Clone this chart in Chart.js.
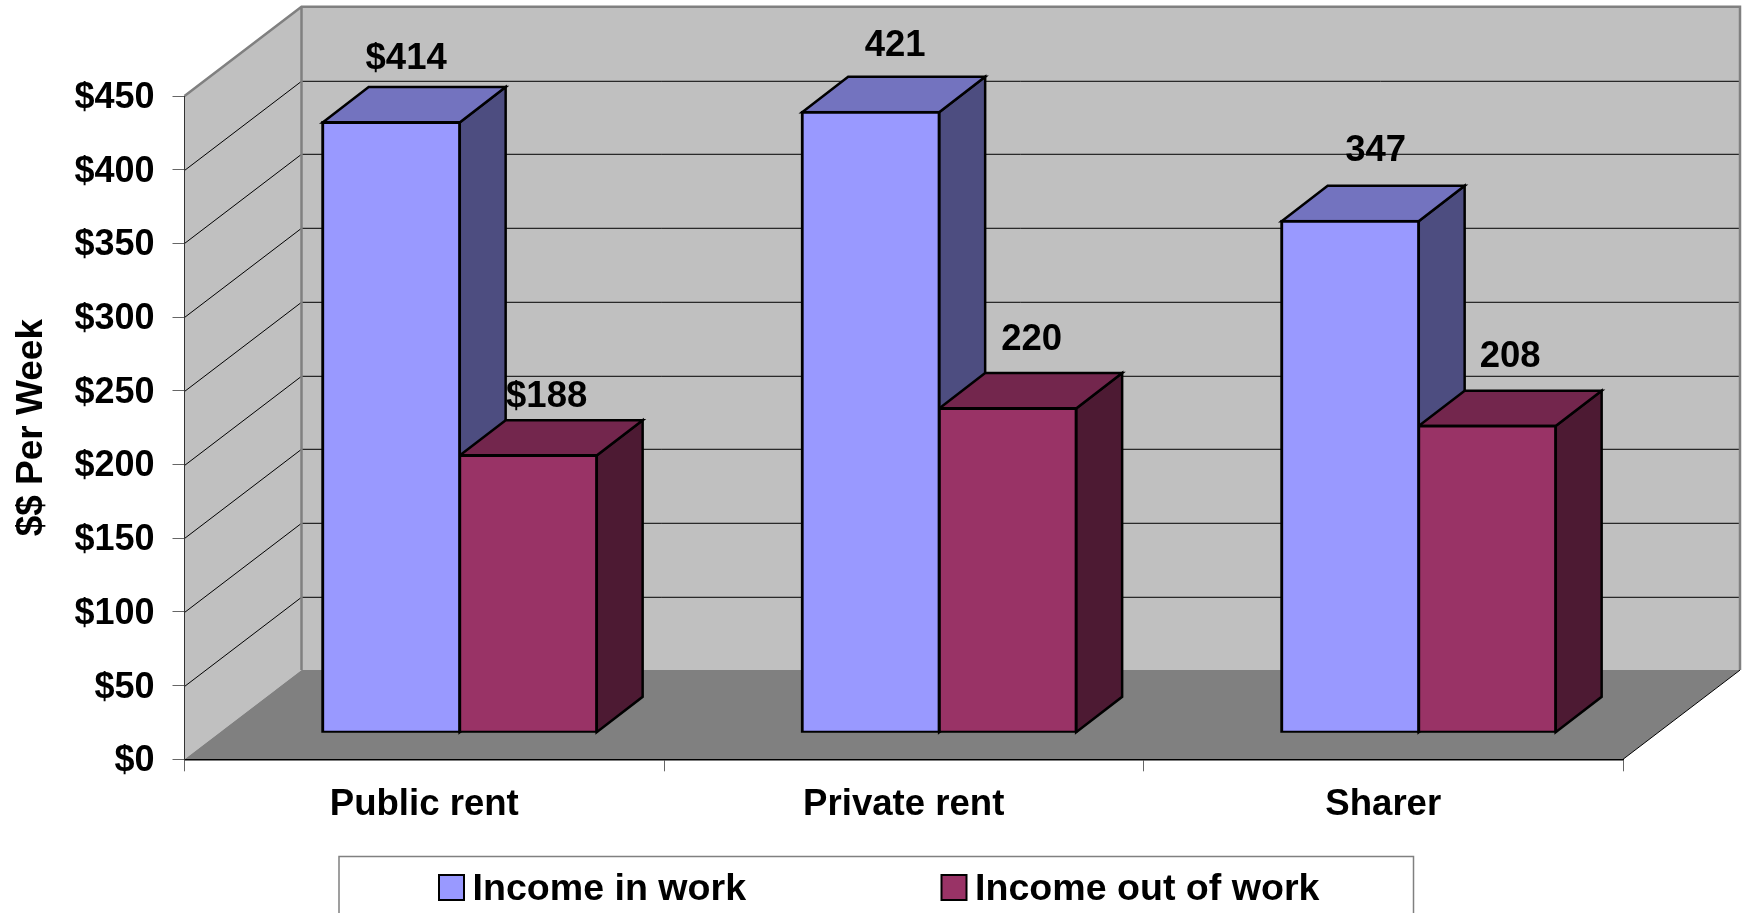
<!DOCTYPE html>
<html>
<head>
<meta charset="utf-8">
<title>Income per week</title>
<script src="https://cdn.jsdelivr.net/npm/chart.js@4"></script>
<style>
  html, body { margin: 0; padding: 0; background: #fff; overflow: hidden; }
  #wrap { width: 1743px; height: 913px; }
</style>
</head>
<body>
<div id="wrap"><canvas id="incomeChart" width="1743" height="913"></canvas></div>
<script>
const categories = ['Public rent', 'Private rent', 'Sharer'];
const incomeInWork = [414, 421, 347];
const incomeOutOfWork = [188, 220, 208];
const inWorkLabels = ['$414', '421', '347'];
const outOfWorkLabels = ['$188', '220', '208'];

const FONT = '"Liberation Sans", Arial, sans-serif';
const boldFont = { family: FONT, size: 36, weight: 'bold' };

// 3D look: box depth of the walls, of the bars, and where the bars stand on the floor
const wall = { dx: 117, dy: 89.2 };
const barDepth = { dx: 46, dy: 35.4 };
const barShift = { dx: 35.4, dy: 26.6 };

// hand placed label offsets from the bar's front top centre, per dataset
const labelNudge = [
  [[15, -64], [24.5, -66], [25.5, -70]],
  [[18.5, -59], [24, -68], [23, -69]]
];

function poly(ctx, pts, fill, stroke, lw) {
  ctx.beginPath();
  pts.forEach((p, i) => i ? ctx.lineTo(p[0], p[1]) : ctx.moveTo(p[0], p[1]));
  ctx.closePath();
  if (fill) { ctx.fillStyle = fill; ctx.fill(); }
  if (stroke) { ctx.strokeStyle = stroke; ctx.lineWidth = lw; ctx.stroke(); }
}

const walls3d = {
  id: 'walls3d',
  beforeDraw(chart) {
    const { ctx, chartArea: a, scales: { y } } = chart;
    const l = a.left, r = a.right, t = y.getPixelForValue(450), b = y.getPixelForValue(0);
    const d = wall;
    ctx.save();
    poly(ctx, [[l, b], [l + d.dx, b - d.dy], [l + d.dx, t - d.dy], [l, t]], '#c0c0c0');
    poly(ctx, [[l + d.dx, b - d.dy], [r + d.dx, b - d.dy], [r + d.dx, t - d.dy], [l + d.dx, t - d.dy]], '#c0c0c0');
    poly(ctx, [[l, b], [r, b], [r + d.dx, b - d.dy], [l + d.dx, b - d.dy]], '#808080');

    // gridlines run along the side wall then the back wall
    ctx.strokeStyle = '#000';
    ctx.lineWidth = 1;
    y.ticks.forEach(tk => {
      if (tk.value === 0 || tk.value === 450) return;
      const py = Math.round(y.getPixelForValue(tk.value)) + 0.5;
      ctx.beginPath();
      ctx.moveTo(l, py);
      ctx.lineTo(l + d.dx, py - d.dy);
      ctx.lineTo(r + d.dx, py - d.dy);
      ctx.stroke();
    });

    // wall outlines
    ctx.strokeStyle = '#808080';
    ctx.lineWidth = 2.5;
    ctx.beginPath();
    ctx.moveTo(l, t);
    ctx.lineTo(l + d.dx, t - d.dy);
    ctx.lineTo(r + d.dx, t - d.dy);
    ctx.lineTo(r + d.dx, b - d.dy);
    ctx.moveTo(l + d.dx, t - d.dy);
    ctx.lineTo(l + d.dx, b - d.dy);
    ctx.stroke();

    ctx.strokeStyle = '#000';
    ctx.lineWidth = 1;
    ctx.beginPath();
    ctx.moveTo(r, b);
    ctx.lineTo(r + d.dx, b - d.dy);
    ctx.stroke();
    ctx.restore();
  }
};

const bars3d = {
  id: 'bars3d',
  beforeDatasetsDraw(chart) {
    const ctx = chart.ctx;
    ctx.save();
    ctx.translate(barShift.dx, -barShift.dy);
    const dx = barDepth.dx, dy = barDepth.dy;
    chart.data.datasets.forEach((ds, i) => {
      chart.getDatasetMeta(i).data.forEach(bar => {
        const p = bar.getProps(['x', 'y', 'base', 'width']);
        const x0 = p.x - p.width / 2, x1 = p.x + p.width / 2;
        poly(ctx, [[x1, p.y], [x1 + dx, p.y - dy], [x1 + dx, p.base - dy], [x1, p.base]], ds.sideColor, '#000', 2.5);
        poly(ctx, [[x0, p.y], [x1, p.y], [x1 + dx, p.y - dy], [x0 + dx, p.y - dy]], ds.topColor, '#000', 2.5);
      });
    });
  },
  afterDatasetsDraw(chart) {
    const ctx = chart.ctx;
    ctx.restore();
    ctx.save();
    ctx.font = 'bold 36.5px ' + FONT;
    ctx.fillStyle = '#000';
    ctx.textAlign = 'center';
    ctx.textBaseline = 'middle';
    chart.data.datasets.forEach((ds, i) => {
      chart.getDatasetMeta(i).data.forEach((bar, j) => {
        const n = labelNudge[i][j];
        ctx.fillText(ds.valueLabels[j], bar.x + barShift.dx + n[0], bar.y - barShift.dy + n[1]);
      });
    });
    ctx.restore();
  }
};

const legendBox = {
  id: 'legendBox',
  afterDraw(chart) {
    const ctx = chart.ctx;
    const swatchX = [439, 941.5], textX = [472.5, 975];
    ctx.save();
    ctx.strokeStyle = '#808080';
    ctx.lineWidth = 1.5;
    ctx.strokeRect(339, 856.5, 1074.5, 80);
    ctx.font = 'bold 37.6px ' + FONT;
    ctx.textBaseline = 'middle';
    chart.data.datasets.forEach((ds, i) => {
      ctx.fillStyle = ds.backgroundColor;
      ctx.fillRect(swatchX[i], 875, 25, 25);
      ctx.strokeStyle = '#000';
      ctx.lineWidth = 2;
      ctx.strokeRect(swatchX[i], 875, 25, 25);
      ctx.fillStyle = '#000';
      ctx.fillText(ds.label, textX[i], 890);
    });
    ctx.restore();
  }
};

new Chart(document.getElementById('incomeChart').getContext('2d'), {
  type: 'bar',
  data: {
    labels: categories,
    datasets: [
      {
        label: 'Income in work',
        data: incomeInWork,
        valueLabels: inWorkLabels,
        backgroundColor: '#9999ff',
        topColor: '#7373bf',
        sideColor: '#4d4d80',
        borderColor: '#000',
        borderWidth: 3,
        inflateAmount: 1.5,
        borderSkipped: false
      },
      {
        label: 'Income out of work',
        data: incomeOutOfWork,
        valueLabels: outOfWorkLabels,
        backgroundColor: '#993366',
        topColor: '#73264d',
        sideColor: '#4d1a33',
        borderColor: '#000',
        borderWidth: 3,
        inflateAmount: 1.5,
        borderSkipped: false
      }
    ]
  },
  options: {
    responsive: false,
    animation: false,
    barPercentage: 1,
    categoryPercentage: 0.5714,
    layout: { padding: { top: 96, right: 120, left: 0, bottom: 0 } },
    plugins: {
      legend: { display: false },
      tooltip: { enabled: false }
    },
    scales: {
      x: {
        afterFit(s) { s.height = 153.7; },
        grid: { drawOnChartArea: false, tickLength: 12, tickColor: '#666' },
        border: { color: '#000', width: 1.5 },
        ticks: { color: '#000', font: { family: FONT, size: 36.6, weight: 'bold' }, padding: 12, maxRotation: 0 }
      },
      y: {
        min: 0,
        max: 450,
        afterFit(s) { s.width = 184.5; },
        grid: { drawOnChartArea: false, tickLength: 12, tickColor: '#666' },
        border: { color: '#333', width: 1 },
        ticks: {
          stepSize: 50,
          color: '#000',
          font: boldFont,
          padding: 18,
          labelOffset: 2,
          callback: v => '$' + v
        },
        title: {
          display: true,
          text: '$$ Per Week',
          color: '#000',
          font: { family: FONT, size: 37, weight: 'bold' },
          padding: { top: 10, bottom: 0 }
        }
      }
    }
  },
  plugins: [walls3d, bars3d, legendBox]
});
</script>
</body>
</html>
